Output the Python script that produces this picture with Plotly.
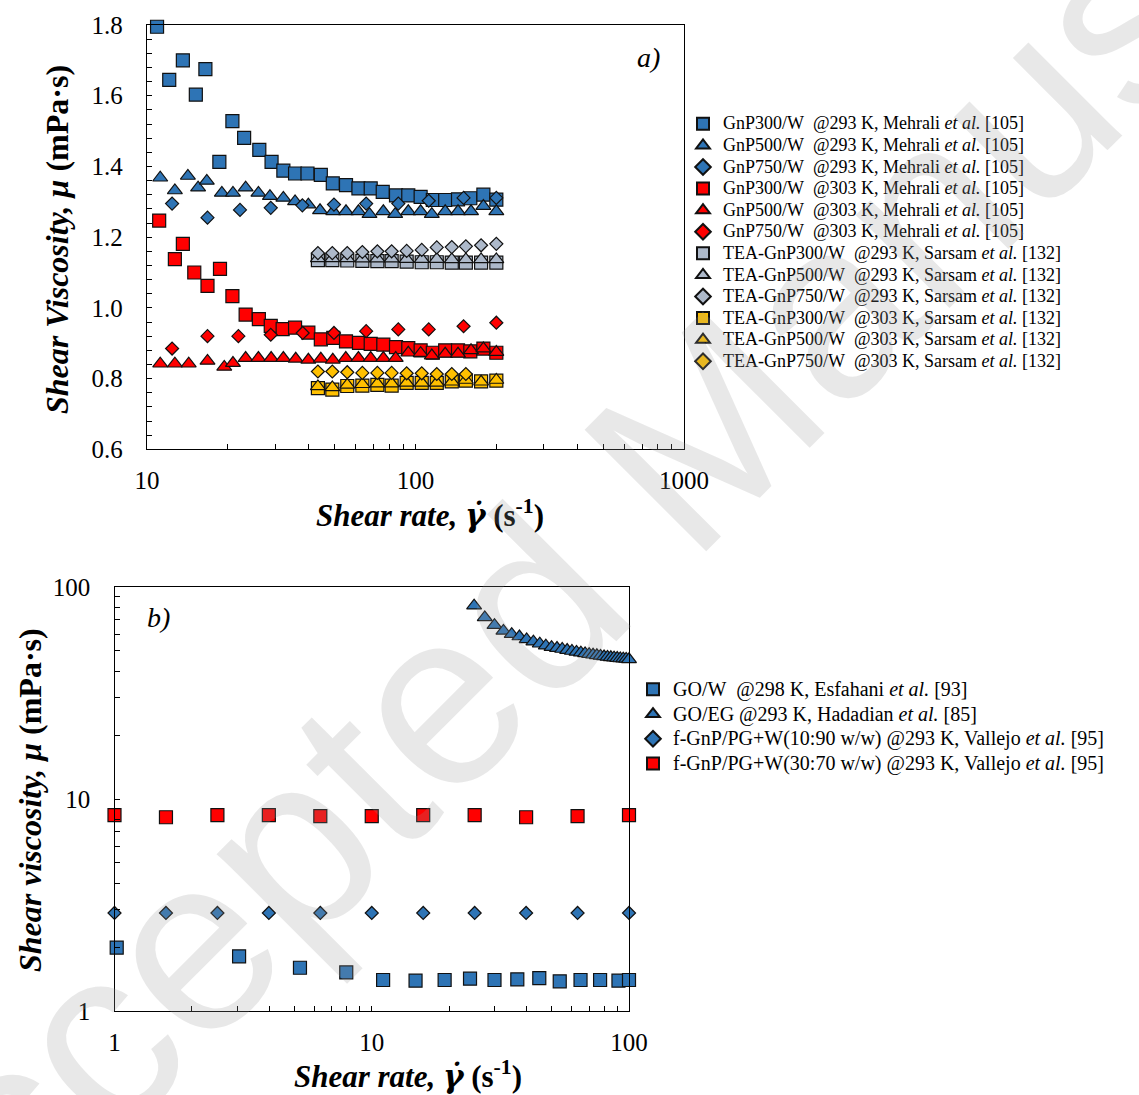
import plotly.graph_objects as go

# ---------------- Panel a) data ----------------
x_b300 = [10.9, 12.1, 13.6, 15.2, 16.5, 18.6, 20.8, 23.0, 26.2, 29.1, 32.2, 35.6, 39.6, 44.4,
          49.2, 55.1, 61.3, 68.1, 75.5, 84.6, 94.0, 104.5, 116, 129, 144, 160, 179, 200]
y_b300 = [1.795, 1.645, 1.700, 1.603, 1.675, 1.413, 1.528, 1.481, 1.447, 1.413, 1.388, 1.380, 1.380, 1.376,
          1.352, 1.347, 1.338, 1.338, 1.328, 1.318, 1.318, 1.314, 1.305, 1.305, 1.307, 1.310, 1.320, 1.306]

x_b500 = [11.2, 12.7, 14.2, 15.5, 16.7, 19.0, 20.9, 23.3, 26.0, 28.7, 32.2, 35.6, 39.9, 44.1,
          49.4, 55.1, 61.3, 67.4, 75.9, 84.0, 94.0, 104.5, 115, 129, 144, 161, 179, 200]
y_b500 = [1.368, 1.332, 1.373, 1.340, 1.359, 1.325, 1.325, 1.340, 1.325, 1.316, 1.311, 1.301, 1.292, 1.276,
          1.273, 1.273, 1.273, 1.265, 1.273, 1.265, 1.273, 1.273, 1.265, 1.273, 1.273, 1.273, 1.288, 1.273]

x_b750 = [12.4, 16.8, 22.2, 28.9, 37.9, 49.7, 65.5, 86.3, 112, 151, 200]
y_b750 = [1.295, 1.255, 1.277, 1.283, 1.290, 1.292, 1.295, 1.295, 1.303, 1.311, 1.311]

x_r300 = [11.1, 12.7, 13.6, 15.0, 16.8, 18.7, 20.8, 23.3, 26.1, 28.9, 32.0, 35.6, 39.9, 44.4,
          49.4, 55.1, 61.6, 68.1, 75.9, 84.6, 94.0, 104.5, 116, 129, 144, 160, 179, 200]
y_r300 = [1.247, 1.138, 1.181, 1.100, 1.062, 1.110, 1.033, 0.981, 0.968, 0.949, 0.940, 0.944, 0.930, 0.911,
          0.915, 0.905, 0.901, 0.898, 0.896, 0.889, 0.886, 0.880, 0.873, 0.880, 0.880, 0.877, 0.885, 0.873]

x_r500 = [11.2, 12.7, 14.3, 16.8, 19.4, 20.9, 23.3, 26.0, 29.0, 32.2, 35.8, 39.9, 44.4, 49.2,
          55.0, 61.3, 68.1, 75.9, 84.4, 94.0, 104.5, 115, 129, 144, 161, 179, 200]
y_r500 = [0.842, 0.842, 0.842, 0.850, 0.833, 0.844, 0.858, 0.858, 0.858, 0.858, 0.856, 0.853, 0.856, 0.853,
          0.858, 0.858, 0.858, 0.858, 0.858, 0.873, 0.872, 0.865, 0.870, 0.870, 0.880, 0.885, 0.875]

x_r750 = [12.4, 16.8, 21.9, 28.9, 38.0, 49.7, 65.5, 86.3, 112, 151, 200]
y_r750 = [0.885, 0.920, 0.920, 0.924, 0.929, 0.929, 0.934, 0.939, 0.939, 0.948, 0.958]

x_tea = [43.3, 49.0, 55.7, 63.4, 72.1, 81.5, 92.7, 105.5, 120, 136.5, 154, 175.5, 200]
y_g300 = [1.135, 1.135, 1.134, 1.133, 1.132, 1.132, 1.131, 1.129, 1.129, 1.128, 1.128, 1.128, 1.128]
y_g500 = [1.140, 1.140, 1.140, 1.139, 1.139, 1.139, 1.138, 1.138, 1.138, 1.137, 1.137, 1.137, 1.137]
y_g750 = [1.155, 1.155, 1.155, 1.158, 1.160, 1.160, 1.161, 1.164, 1.171, 1.172, 1.174, 1.177, 1.181]
y_y300 = [0.773, 0.769, 0.779, 0.780, 0.782, 0.780, 0.788, 0.788, 0.788, 0.792, 0.794, 0.792, 0.794]
y_y500 = [0.778, 0.775, 0.782, 0.784, 0.786, 0.786, 0.788, 0.788, 0.788, 0.791, 0.796, 0.791, 0.796]
x_y750 = [43.3, 49.0, 55.7, 63.4, 72.1, 81.5, 92.7, 105.5, 120, 136.5, 154]
y_y750 = [0.820, 0.820, 0.818, 0.816, 0.816, 0.816, 0.815, 0.815, 0.813, 0.813, 0.813]

# ---------------- Panel b) data ----------------
x_esf = [1.02, 3.05, 5.26, 7.96, 11.07, 14.8, 19.2, 24.1, 30.0, 36.8, 44.8, 53.8, 64.8, 77.2, 91.0, 100]
y_esf = [1.99, 1.81, 1.60, 1.52, 1.40, 1.39, 1.40, 1.42, 1.40, 1.41, 1.43, 1.38, 1.40, 1.40, 1.39, 1.40]

x_had = [25, 27.5, 30, 32.5, 35, 37.5, 40, 42.5, 45, 47.5, 50, 52.5, 55, 57.5, 60, 62.5,
         65, 67.5, 70, 72.5, 75, 77.5, 80, 82.5, 85, 87.5, 90, 92.5, 95, 97.5, 100]
y_had = [81.6, 71.9, 66.1, 62.1, 59.9, 58.4, 56.6, 55.2, 54.0, 52.9, 52.0, 51.5, 51.0, 50.4, 49.9, 49.4,
         49.0, 48.6, 48.2, 47.9, 47.6, 47.3, 47.0, 46.8, 46.6, 46.4, 46.2, 46.0, 45.9, 45.8, 45.6]

x_val = [1, 1.585, 2.512, 3.981, 6.31, 10, 15.85, 25.12, 39.81, 63.1, 100]
y_val10 = [2.9, 2.9, 2.9, 2.9, 2.9, 2.9, 2.9, 2.9, 2.9, 2.9, 2.9]
y_val30 = [8.4, 8.2, 8.4, 8.4, 8.3, 8.3, 8.4, 8.4, 8.2, 8.3, 8.4]

# ---------------- styling ----------------
SERIF = "Liberation Serif"
BLUE = "#2E74B5"
RED = "#FF0000"
GRAY = "#ADB9CA"
YEL = "#FFC000"
EDGE = dict(color="#111111", width=1.2)
NB = "\u00a0"

fig = go.Figure()

def add(x, y, name, sym, color, size, xa="x", ya="y", legend="legend", tsize=18):
    fig.add_trace(go.Scatter(
        x=x, y=y, mode="markers", name=f'<span style="font-size:{tsize}px">{name}</span>',
        xaxis=xa, yaxis=ya, legend=legend, cliponaxis=False,
        marker=dict(symbol=sym, color=color, size=size, line=EDGE)))

SQ, TR, DI = 13, 13, 10
add(x_b300, y_b300, f"GnP300/W{NB} @293 K, Mehrali <i>et al.</i> [105]", "square", BLUE, SQ)
add(x_b500, y_b500, f"GnP500/W{NB} @293 K, Mehrali <i>et al.</i> [105]", "triangle-up", BLUE, TR)
add(x_b750, y_b750, f"GnP750/W{NB} @293 K, Mehrali <i>et al.</i> [105]", "diamond", BLUE, DI)
add(x_r300, y_r300, f"GnP300/W{NB} @303 K, Mehrali <i>et al.</i> [105]", "square", RED, SQ)
add(x_r500, y_r500, f"GnP500/W{NB} @303 K, Mehrali <i>et al.</i> [105]", "triangle-up", RED, TR)
add(x_r750, y_r750, f"GnP750/W{NB} @303 K, Mehrali <i>et al.</i> [105]", "diamond", RED, DI)
add(x_tea, y_g300, f"TEA-GnP300/W{NB} @293 K, Sarsam <i>et al.</i> [132]", "square", GRAY, SQ)
add(x_tea, y_g500, f"TEA-GnP500/W{NB} @293 K, Sarsam <i>et al.</i> [132]", "triangle-up", GRAY, TR)
add(x_tea, y_g750, f"TEA-GnP750/W{NB} @293 K, Sarsam <i>et al.</i> [132]", "diamond", GRAY, DI)
add(x_tea, y_y300, f"TEA-GnP300/W{NB} @303 K, Sarsam <i>et al.</i> [132]", "square", YEL, SQ)
add(x_tea, y_y500, f"TEA-GnP500/W{NB} @303 K, Sarsam <i>et al.</i> [132]", "triangle-up", YEL, TR)
add(x_y750, y_y750, f"TEA-GnP750/W{NB} @303 K, Sarsam <i>et al.</i> [132]", "diamond", YEL, DI)

add(x_esf, y_esf, f"GO/W{NB} @298 K, Esfahani <i>et al.</i> [93]", "square", BLUE, 13, "x2", "y2", "legend2", 20)
add(x_had, y_had, "GO/EG @293 K, Hadadian <i>et al.</i> [85]", "triangle-up", BLUE, 13, "x2", "y2", "legend2", 20)
add(x_val, y_val10, "f-GnP/PG+W(10:90 w/w) @293 K, Vallejo <i>et al.</i> [95]", "diamond", BLUE, 10, "x2", "y2", "legend2", 20)
add(x_val, y_val30, "f-GnP/PG+W(30:70 w/w) @293 K, Vallejo <i>et al.</i> [95]", "square", RED, 13, "x2", "y2", "legend2", 20)

W, H = 1139, 1095
def px(x): return x / W
def py(y): return 1 - y / H

axcommon = dict(showline=True, linecolor="black", linewidth=1.3, mirror=True,
                ticks="inside", ticklen=5, tickwidth=1, tickcolor="black",
                showgrid=False, zeroline=False, automargin=False,
                tickfont=dict(family=SERIF, size=25, color="black"))

fig.update_layout(
    width=W, height=H, margin=dict(l=0, r=0, t=0, b=0, pad=0, autoexpand=False),
    paper_bgcolor="white", plot_bgcolor="white",
    xaxis=dict(axcommon, type="log", range=[1, 3], dtick=1, domain=[px(147), px(684)], anchor="y",
               ticklabelstandoff=9,
               minor=dict(ticks="inside", ticklen=5, dtick="D1", tickcolor="black", showgrid=False)),
    yaxis=dict(axcommon, range=[0.6, 1.8], dtick=0.2, tickformat=".1f", domain=[py(449.3), py(25)], anchor="x",
               ticklabelstandoff=18,
               minor=dict(ticks="inside", ticklen=5, dtick=0.04, tickcolor="black", showgrid=False)),
    xaxis2=dict(axcommon, type="log", range=[0, 2], dtick=1, domain=[px(114.5), px(629)], anchor="y2",
                ticklabelstandoff=9,
                minor=dict(ticks="inside", ticklen=5, dtick="D1", tickcolor="black", showgrid=False)),
    yaxis2=dict(axcommon, type="log", range=[0, 2], dtick=1, domain=[py(1011), py(587)], anchor="x2",
                ticklabelstandoff=18,
                minor=dict(ticks="inside", ticklen=5, dtick="D1", tickcolor="black", showgrid=False)),
    legend=dict(x=px(683), y=py(108), xanchor="left", yanchor="top",
                font=dict(family=SERIF, size=14.3, color="black"), bgcolor="rgba(0,0,0,0)",
                itemsizing="constant", tracegroupgap=0),
    legend2=dict(x=px(633), y=py(672), xanchor="left", yanchor="top",
                 font=dict(family=SERIF, size=16.7, color="black"), bgcolor="rgba(0,0,0,0)",
                 itemsizing="constant", tracegroupgap=0),
    showlegend=True,
)

ann = []
def a(x, y, text, size, angle=0, color="black", family=SERIF):
    ann.append(dict(x=px(x), y=py(y), xref="paper", yref="paper", text=text, showarrow=False,
                    textangle=angle, xanchor="center", yanchor="middle",
                    font=dict(family=family, size=size, color=color)))

GDOT = '<span style="font-family:DejaVu Serif">γ̇</span>'
a(57, 240, "<b><i>Shear Viscosity, μ</i> (mPa·s)</b>", 32, -90)
a(430, 513, f"<b><i>Shear rate, {GDOT}</i> (s<sup>-1</sup>)</b>", 31)
a(30, 800, "<b><i>Shear viscosity, μ</i> (mPa·s)</b>", 32, -90)
a(408, 1074, f"<b><i>Shear rate, {GDOT}</i> (s<sup>-1</sup>)</b>", 31)
a(648, 57, "<i>a)</i>", 28)
a(158, 617, "<i>b)</i>", 28)
# watermark
a(670, 466, "Accepted Manuscript", 250, -45, "rgba(150,150,150,0.22)", "Liberation Sans")
fig.update_layout(annotations=ann)

fig.write_html("out.html")
